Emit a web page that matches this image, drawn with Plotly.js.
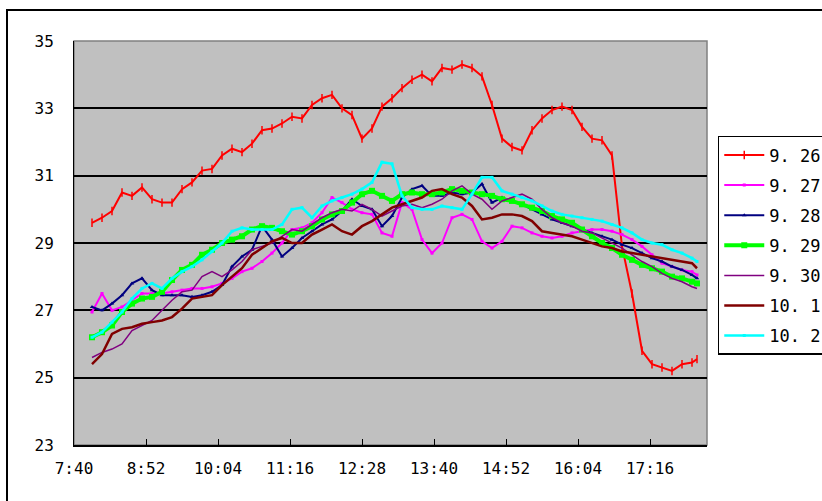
<!DOCTYPE html>
<html><head><meta charset="utf-8">
<script src="https://cdn.plot.ly/plotly-3.0.1.min.js"></script>
<style>
body{margin:0;overflow:hidden;background:#fff}
#frame{position:absolute;left:6px;top:9px;width:900px;height:600px;border-left:2px solid #000;border-top:2px solid #000;pointer-events:none}
</style>
</head><body>
<div id="chart" style="width:822px;height:501px"></div>
<div id="frame"></div>
<script>
const times = ["7:58","8:08","8:18","8:28","8:38","8:48","8:58","9:08","9:18","9:28",
"9:38","9:48","9:58","10:08","10:18","10:28","10:38","10:48","10:58","11:08",
"11:18","11:28","11:38","11:48","11:58","12:08","12:18","12:28","12:38","12:48",
"12:58","13:08","13:18","13:28","13:38","13:48","13:58","14:08","14:18","14:28",
"14:38","14:48","14:58","15:08","15:18","15:28","15:38","15:48","15:58","16:08",
"16:18","16:28","16:38","16:48","16:58","17:08","17:18","17:28","17:38","17:48",
"17:58","18:03"];

const tickLabels = ["7:40","8:52","10:04","11:16","12:28","13:40","14:52","16:04","17:16"];
const yTicks = [23,25,27,29,31,33,35];

const s0926 = [29.6,29.75,29.95,30.5,30.4,30.65,30.3,30.2,30.2,30.6,
30.8,31.15,31.2,31.6,31.8,31.7,31.95,32.35,32.4,32.55,
32.75,32.7,33.1,33.3,33.4,33.0,32.8,32.1,32.4,33.05,
33.3,33.6,33.85,34.0,33.8,34.2,34.15,34.3,34.2,33.95,
33.1,32.1,31.85,31.75,32.35,32.7,32.95,33.05,32.95,32.45,
32.1,32.05,31.6,28.9,27.5,25.8,25.4,25.3,25.2,25.4,
25.45,25.55];
const s0927 = [26.95,27.5,27.0,27.1,27.3,27.5,27.5,27.5,27.55,27.6,
27.65,27.65,27.7,27.8,27.95,28.15,28.25,28.45,28.7,29.0,
29.4,29.45,29.6,29.9,30.35,30.2,30.0,29.9,29.85,29.3,
29.2,30.2,30.0,29.1,28.7,29.0,29.75,29.85,29.7,29.05,
28.85,29.05,29.5,29.45,29.3,29.2,29.15,29.2,29.3,29.35,
29.4,29.4,29.35,29.25,29.1,28.9,28.65,28.4,28.3,28.2,
28.15,28.05];
const s0928 = [27.1,27.0,27.2,27.45,27.8,27.95,27.6,27.45,27.45,27.45,
27.4,27.45,27.55,27.75,28.3,28.6,28.8,29.5,29.1,28.6,
28.85,29.15,29.35,29.55,29.7,29.95,30.3,30.1,30.0,29.5,
29.8,30.35,30.6,30.7,30.4,30.4,30.5,30.45,30.5,30.75,
30.2,30.35,30.25,30.15,30.0,29.85,29.7,29.6,29.5,29.4,
29.3,29.2,29.1,28.95,28.85,28.7,28.55,28.45,28.3,28.2,
28.05,27.95];
const s0929 = [26.2,26.35,26.55,26.95,27.2,27.35,27.4,27.55,27.9,28.2,
28.35,28.65,28.8,29.0,29.1,29.2,29.4,29.5,29.45,29.35,
29.25,29.35,29.5,29.7,29.85,29.95,30.2,30.45,30.55,30.4,
30.25,30.45,30.5,30.45,30.45,30.5,30.6,30.55,30.5,30.45,
30.4,30.3,30.25,30.15,30.05,29.95,29.8,29.7,29.6,29.4,
29.2,29.0,28.85,28.65,28.5,28.35,28.25,28.15,28.0,27.95,
27.85,27.8];
const s0930 = [25.6,25.75,25.85,26.0,26.4,26.55,26.7,27.0,27.3,27.55,
27.6,28.0,28.15,28.0,28.2,28.45,28.8,28.9,29.0,29.2,
29.4,29.35,29.55,29.75,29.9,30.0,29.95,30.15,30.0,29.8,
29.95,30.1,30.15,30.05,30.15,30.3,30.55,30.7,30.45,30.3,
30.0,30.25,30.35,30.45,30.3,30.0,29.75,29.6,29.5,29.35,
29.3,29.15,29.0,28.85,28.65,28.45,28.3,28.1,27.95,27.85,
27.7,27.65];
const s1001 = [25.4,25.7,26.3,26.45,26.5,26.6,26.65,26.7,26.8,27.05,
27.35,27.4,27.45,27.75,28.0,28.25,28.65,28.85,29.05,29.15,
29.0,29.0,29.25,29.4,29.55,29.35,29.25,29.5,29.65,29.85,
30.05,30.15,30.25,30.35,30.55,30.6,30.45,30.35,30.1,29.7,
29.75,29.85,29.85,29.8,29.65,29.35,29.3,29.25,29.2,29.1,
29.0,28.9,28.85,28.75,28.7,28.65,28.6,28.55,28.5,28.45,
28.4,28.25];
const s1002 = [26.2,26.35,26.65,26.95,27.35,27.65,27.8,27.65,27.95,28.15,
28.3,28.5,28.75,29.0,29.35,29.45,29.4,29.4,29.4,29.55,
30.0,30.05,29.75,30.1,30.25,30.35,30.45,30.6,30.8,31.4,
31.35,30.4,30.05,30.0,30.0,30.1,30.05,30.0,30.45,30.95,
30.95,30.55,30.45,30.35,30.25,30.1,29.95,29.85,29.8,29.75,
29.7,29.65,29.55,29.45,29.3,29.1,29.0,28.95,28.8,28.7,
28.55,28.45];

const seriesNames = ["9. 26","9. 27","9. 28","9. 29","9. 30","10. 1","10. 2"];
const seriesValues = [s0926,s0927,s0928,s0929,s0930,s1001,s1002];
const styles = [
  {color:"#ff0000", width:2,   mode:"lines+markers", marker:{symbol:"line-ns", size:6, line:{width:1.5,color:"#ff0000"}}},
  {color:"#ff00ff", width:2,   mode:"lines+markers", marker:{symbol:"square", size:3}},
  {color:"#000080", width:2,   mode:"lines+markers", marker:{symbol:"triangle-up", size:4}},
  {color:"#00ff00", width:4,   mode:"lines+markers", marker:{symbol:"square", size:6}},
  {color:"#800080", width:1.5, mode:"lines"},
  {color:"#800000", width:2.5, mode:"lines"},
  {color:"#00ffff", width:2.5, mode:"lines+markers", marker:{symbol:"square", size:3}}
];

function toMin(s){const p=s.split(":");return Number(p[0])*60+Number(p[1]);}
const xs = times.map(toMin);
const tickVals = tickLabels.map(toMin);

const FONT = "DejaVu Sans Mono, Liberation Mono, monospace";

const traces = seriesNames.map((name,i)=>{
  const st = styles[i];
  const t = {
    type:"scatter", x:xs, y:seriesValues[i], name:name, legendgroup:"g"+i,
    mode:st.mode, line:{color:st.color, width:st.width, shape:"linear"},
    hoverinfo:"skip"
  };
  if (st.marker) t.marker = Object.assign({color:st.color}, st.marker);
  return t;
});

const layout = {
  width:822, height:501,
  margin:{l:74, r:115, t:41, b:56, pad:0, autoexpand:false},
  paper_bgcolor:"#ffffff",
  plot_bgcolor:"#c0c0c0",
  showlegend:true,
  font:{family:FONT, size:16, color:"#000"},
  xaxis:{
    range:[toMin("7:40"), toMin("7:40")+633],
    tickvals:tickVals, ticktext:tickLabels,
    showgrid:false, zeroline:false,
    showline:true, linecolor:"#000", linewidth:2,
    ticks:"inside", ticklen:6, tickcolor:"#000", tickwidth:1,
    ticklabelstandoff:8,
    tickfont:{family:FONT, size:16, color:"#000"}
  },
  yaxis:{
    range:[23,35],
    tickvals:yTicks,
    showgrid:true, gridcolor:"#000", gridwidth:2,
    zeroline:false,
    showline:true, linecolor:"#000", linewidth:1,
    ticks:"", ticklabelstandoff:16,
    tickfont:{family:FONT, size:16, color:"#000"}
  },
  shapes:[
    {type:"rect", xref:"paper", yref:"paper", x0:0, x1:1, y0:0, y1:1,
     line:{color:"#808080", width:1.5}, fillcolor:"rgba(0,0,0,0)", layer:"below"}
  ],
  legend:{
    x:1.017, y:0.765, xanchor:"left", yanchor:"top",
    bgcolor:"#ffffff", bordercolor:"#000", borderwidth:1.5,
    font:{family:FONT, size:17, color:"#000"},
    tracegroupgap:5, itemwidth:40
  }
};

Plotly.newPlot("chart", traces, layout, {staticPlot:true, displayModeBar:false});
</script>
</body></html>
